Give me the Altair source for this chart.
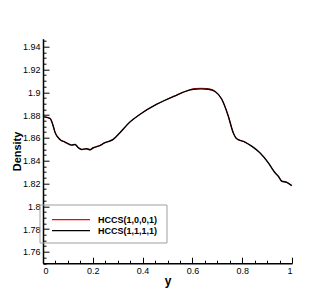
import altair as alt
import pandas as pd

# ---- data ----
y_pos = [0.0, 0.028, 0.041, 0.048, 0.068, 0.088, 0.115, 0.129, 0.142, 0.155, 0.175,
         0.189, 0.202, 0.222, 0.249, 0.282, 0.309, 0.349, 0.39, 0.457, 0.524, 0.59,
         0.604, 0.634, 0.664, 0.691, 0.718, 0.744, 0.764, 0.778, 0.811, 0.838, 0.871,
         0.905, 0.932, 0.945, 0.959, 0.979, 0.999]
rho_1111 = [1.8786, 1.877, 1.8704, 1.865, 1.8586, 1.8563, 1.8536, 1.8542, 1.8513, 1.8498,
            1.8504, 1.8496, 1.8513, 1.8527, 1.8557, 1.8586, 1.8645, 1.8739, 1.8807, 1.8895,
            1.8963, 1.9021, 1.9027, 1.903, 1.9027, 1.9007, 1.8939, 1.8792, 1.8645, 1.8592,
            1.8563, 1.8527, 1.8469, 1.8381, 1.8293, 1.8263, 1.8219, 1.821, 1.8181]
rho_1001 = [1.8786, 1.877, 1.8704, 1.865, 1.8586, 1.8563, 1.8536, 1.8542, 1.8513, 1.8498,
            1.8504, 1.8496, 1.8513, 1.8527, 1.8557, 1.8586, 1.8645, 1.8739, 1.8807, 1.8895,
            1.8963, 1.9021, 1.9031, 1.9035, 1.9031, 1.9009, 1.8939, 1.8792, 1.8645, 1.8592,
            1.8563, 1.8527, 1.8469, 1.8381, 1.8295, 1.8263, 1.8219, 1.821, 1.8181]

series_names = ["HCCS(1,0,0,1)", "HCCS(1,1,1,1)"]
series_colors = ["#ff0000", "#000000"]
series_widths = [1.0, 1.4]

x_labels = [0, 0.2, 0.4, 0.6, 0.8, 1.0]
y_labels = [1.76, 1.78, 1.8, 1.82, 1.84, 1.86, 1.88, 1.9, 1.92, 1.94]
x_minor = [round(0.05 * i, 3) for i in range(21)]
y_minor = [round(1.75 + 0.005 * i, 3) for i in range(40)]

frames = []
for name, vals in zip(series_names, [rho_1001, rho_1111]):
    frames.append(pd.DataFrame({"y": y_pos, "density": vals, "series": name,
                                "idx": list(range(len(y_pos)))}))
df_all = pd.concat(frames, ignore_index=True)

FONT = "Liberation Sans"
W, H = 249, 224.5

xs = alt.Scale(domain=[0, 1], nice=False, zero=False)
ys = alt.Scale(domain=[1.75, 1.947], nice=False, zero=False)

x_main_axis = alt.Axis(
    orient="bottom", values=x_labels, format="~g", title="y", ticks=False, grid=False,
    domainColor="black", domainWidth=1.5, labelFont=FONT, labelFontSize=9,
    labelColor="black", labelPadding=3, titleFont=FONT, titleFontSize=12,
    titleFontWeight="bold", titleColor="black", titlePadding=0)
y_main_axis = alt.Axis(
    orient="left", values=y_labels, format="~g", title="Density", ticks=False, grid=False,
    domainColor="black", domainWidth=1.5, labelFont=FONT, labelFontSize=9,
    labelColor="black", labelPadding=3, titleFont=FONT, titleFontSize=11,
    titleFontWeight="bold", titleColor="black", titlePadding=0)

line_layers = []
for k, (name, col, wdt) in enumerate(zip(series_names, series_colors, series_widths)):
    enc = dict(
        x=alt.X("y:Q", scale=xs, axis=x_main_axis if k == 0 else None),
        y=alt.Y("density:Q", scale=ys, axis=y_main_axis if k == 0 else None),
        order="idx:Q",
    )
    line_layers.append(
        alt.Chart(frames[k]).mark_line(strokeWidth=wdt, color=col, interpolate="monotone").encode(**enc)
    )

tick_layer = alt.Chart(df_all).mark_line(strokeOpacity=0).encode(
    x=alt.X("y:Q", scale=xs, axis=alt.Axis(
        orient="top", offset=-H, values=x_minor, labels=False, domain=False, grid=False,
        title=None, tickColor="black", tickWidth=1,
        tickSize={"condition": {"test": "abs(datum.value*5 - round(datum.value*5)) < 0.001", "value": 6}, "value": 3})),
    y=alt.Y("density:Q", scale=ys, axis=alt.Axis(
        orient="right", offset=-W, values=y_minor, labels=False, domain=False, grid=False,
        title=None, tickColor="black", tickWidth=1,
        tickSize={"condition": {"test": "abs(datum.value*50 - round(datum.value*50)) < 0.001", "value": 6}, "value": 3})),
    detail="series:N",
)

# legend drawn as a small framed key
legend_box = alt.Chart(pd.DataFrame({"k": [0]})).mark_rect(
    fill="white", fillOpacity=0, stroke="#a0a0a0", strokeWidth=1
).encode(x=alt.value(-3), x2=alt.value(124), y=alt.value(166.3), y2=alt.value(204.3))

legend_layers = [legend_box]
for i, (name, col) in enumerate(zip(series_names, series_colors)):
    yy = 181 + 11 * i
    src = pd.DataFrame({"series": [name]})
    legend_layers.append(alt.Chart(src).mark_rule(color=col, strokeWidth=1.2).encode(
        x=alt.value(9), x2=alt.value(47), y=alt.value(yy)))
    legend_layers.append(alt.Chart(src).mark_text(
        align="left", baseline="middle", font=FONT, fontSize=9, fontWeight="bold", color="black"
    ).encode(x=alt.value(55), y=alt.value(yy), text="series:N"))

chart = alt.layer(*line_layers, tick_layer, *legend_layers).resolve_axis(
    x="independent", y="independent"
).properties(
    width=W, height=H,
    autosize=alt.AutoSizeParams(type="none"),
    padding={"left": 35, "top": 30.7, "right": 28, "bottom": 25},
    background="white",
).configure_view(strokeWidth=0)

chart.save("out.html", embed_options={"renderer": "svg", "actions": False})
